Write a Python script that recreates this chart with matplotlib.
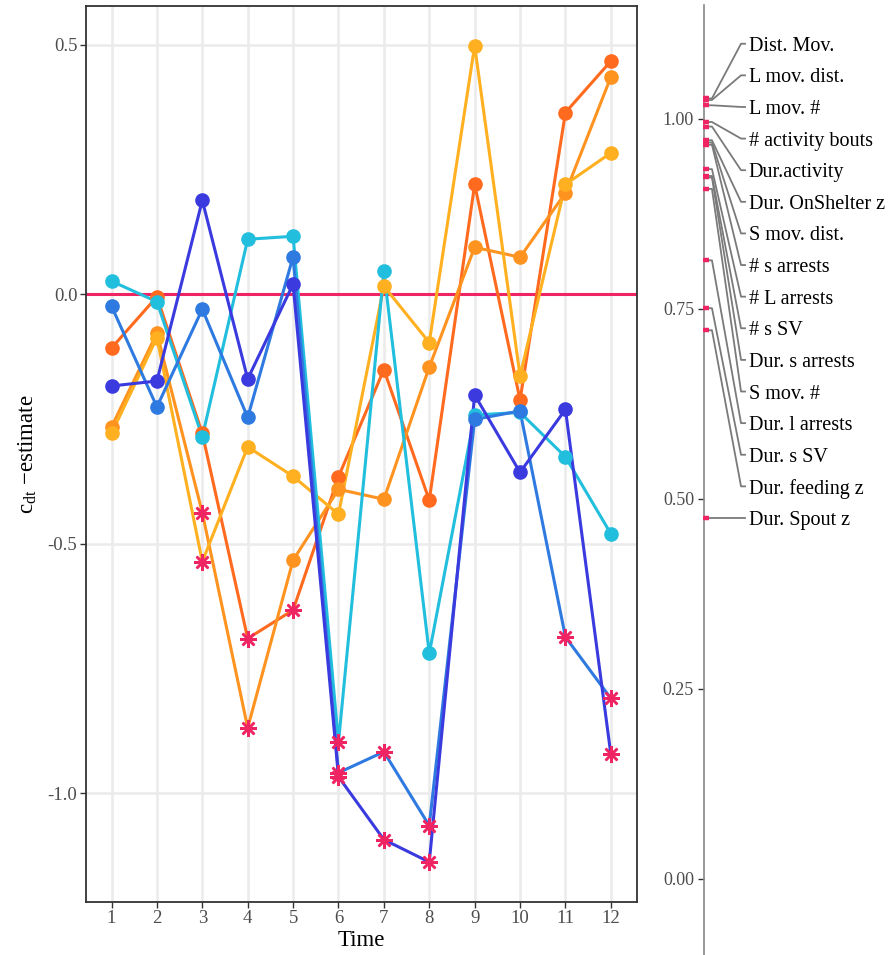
import matplotlib.pyplot as plt
import numpy as np

plt.rcParams['font.family'] = ['Liberation Serif', 'DejaVu Serif']
plt.rcParams['mathtext.fontset'] = 'custom'
plt.rcParams['mathtext.rm'] = 'Liberation Serif'

# main panel data
time = np.arange(1, 13)

cyan = [0.026, -0.015, -0.286, 0.110, 0.116, -0.898, 0.046, -0.720, -0.242, -0.237, -0.326, -0.480]
blue = [-0.024, -0.226, -0.030, -0.247, 0.075, -0.959, -0.917, -1.065, -0.251, -0.234, -0.687, -0.810]
indigo = [-0.184, -0.174, 0.188, -0.170, 0.020, -0.967, -1.093, -1.138, -0.202, -0.357, -0.231, -0.922]
orange_red = [-0.108, -0.005, -0.279, -0.690, -0.633, -0.366, -0.151, -0.413, 0.220, -0.212, 0.364, 0.467]
orange = [-0.266, -0.078, -0.438, -0.869, -0.533, -0.391, -0.411, -0.146, 0.094, 0.074, 0.203, 0.435]
yellow = [-0.279, -0.087, -0.536, -0.306, -0.365, -0.441, 0.016, -0.097, 0.498, -0.164, 0.220, 0.283]

# time points flagged with an asterisk
sig_cyan = [6]
sig_blue = [6, 7, 8, 11, 12]
sig_indigo = [6, 7, 8, 12]
sig_orange_red = [4, 5]
sig_orange = [3, 4]
sig_yellow = [3]

# right panel data
var_names = ['Dist. Mov.', 'L mov. dist.', 'L mov. #', '# activity bouts', 'Dur.activity',
             'Dur. OnShelter z', 'S mov. dist.', '# s arrests', '# L arrests', '# s SV',
             'Dur. s arrests', 'S mov. #', 'Dur. l arrests', 'Dur. s SV', 'Dur. feeding z',
             'Dur. Spout z']
var_values = [1.027, 1.025, 1.018, 0.996, 0.990, 0.972, 0.969, 0.966, 0.934, 0.925,
              0.923, 0.908, 0.814, 0.751, 0.722, 0.475]

pink = '#EE2463'
series = [
    (orange_red, sig_orange_red, '#FF6A1F'),
    (orange, sig_orange, '#FF9320'),
    (yellow, sig_yellow, '#FFB020'),
    (cyan, sig_cyan, '#22BEDD'),
    (blue, sig_blue, '#2E7AE0'),
    (indigo, sig_indigo, '#3A3ADF'),
]

fig = plt.figure(figsize=(8.95, 9.55), dpi=100)
ax = fig.add_axes([0.0957, 0.0555, 0.6157, 0.9385])

ax.axhline(0, color=pink, lw=2.2, zorder=2)
for vals, sig, col in series:
    vals = np.array(vals)
    ax.plot(time, vals, color=col, lw=2.2, zorder=3)
    mask = np.isin(time, sig)
    ax.plot(time[~mask], vals[~mask], 'o', color=col, ms=9.5, zorder=4, ls='none')
    ax.plot(time[mask], vals[mask], marker=(8, 2, 0), color=pink, ms=12, mew=1.8,
            ls='none', zorder=5)

ax.set_xlim(0.43, 12.57)
ax.set_ylim(-1.218, 0.578)
ax.set_xticks(time)
ax.set_yticks([0.5, 0.0, -0.5, -1.0])
ax.set_yticklabels(['0.5', '0.0', '-0.5', '-1.0'])
ax.grid(True, color='#EBEBEB', lw=1.8)
ax.set_axisbelow(True)
for s in ax.spines.values():
    s.set_color('#333333')
    s.set_linewidth(1.3)
ax.tick_params(colors='#333333', labelcolor='#4D4D4D', labelsize=13.5, length=4, width=1, pad=2)
ax.set_xlabel('Time', fontsize=16.5, labelpad=2)
ax.set_ylabel(r'c$_{\mathregular{dt}}$ −estimate', fontsize=16.5, labelpad=6)

# right panel: labelled values
ax2 = fig.add_axes([0.7863, 0.0, 0.2137, 0.9948])
ax2.set_xlim(0, 1)
ax2.set_ylim(-0.1, 1.15)
for k in ['top', 'right', 'bottom']:
    ax2.spines[k].set_visible(False)
ax2.spines['left'].set_color('#888888')
ax2.spines['left'].set_linewidth(1.2)
ax2.set_xticks([])
ax2.set_yticks([0.0, 0.25, 0.5, 0.75, 1.0])
ax2.set_yticklabels(['0.00', '0.25', '0.50', '0.75', '1.00'])
ax2.tick_params(axis='y', colors='#333333', labelcolor='#4D4D4D', labelsize=13, length=4, width=1, pad=3)
ax2.patch.set_alpha(0)

order = np.argsort(var_values)[::-1]
gap = 0.0416
n = len(var_values)
bottom = min(var_values)
for rank, i in enumerate(order):
    v = var_values[i]
    ly = bottom + (n - 1 - rank) * gap
    ax2.plot([0.0, 0.043, 0.195, 0.216], [v, v, ly, ly], color='#7A7A7A', lw=1.3, zorder=2)
    ax2.plot([-0.005, 0.025], [v, v], color=pink, lw=3.2, solid_capstyle='butt', zorder=3,
             clip_on=False)
    ax2.text(0.235, ly, var_names[i], fontsize=14.5, va='center_baseline', ha='left',
             color='black')

fig.savefig('out.png', dpi=100)
